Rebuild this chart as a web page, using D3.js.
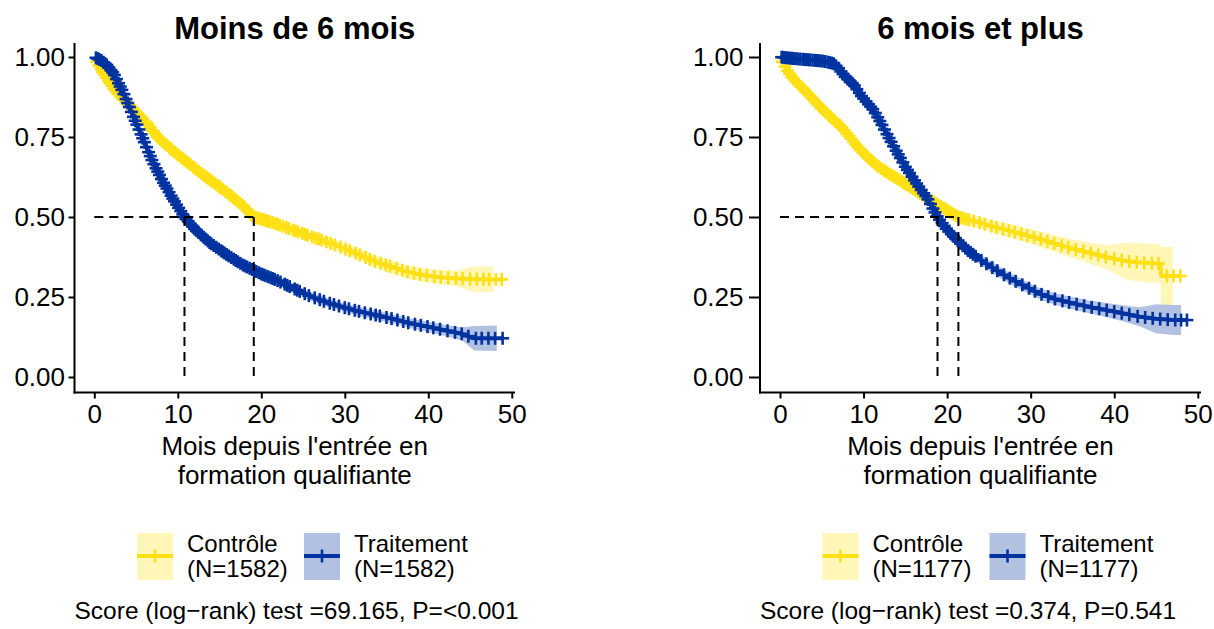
<!doctype html>
<html>
<head>
    <meta charset="utf-8">
    <title>Survie - formation qualifiante</title>
    <style>
        body {
            margin: 0;
            padding: 0;
            background: #fff;
        }
        text {
            font-family: "Liberation Sans", Arial, sans-serif;
            fill: #000;
        }
    </style>
</head>
<body>
    <svg id="chart" width="1214" height="629"></svg>

    <script src="https://d3js.org/d3.v7.min.js"></script>
    <script>
        // ---- data ----
        var xTicks = [0, 10, 20, 30, 40, 50];
        var yTicks = [0, 0.25, 0.5, 0.75, 1];
        var groupNames = ["Contrôle", "Traitement"];
        var groupColors = ["#FFE014", "#0033A0"];

        // panel 1 : Moins de 6 mois
        var timeCtrlA = [0, 0.5, 1.0, 1.6, 2.3, 3.0, 3.7, 4.3, 5.0, 5.8, 6.6, 7.5, 8.5, 9.5, 10.3, 11.5, 12.7, 13.5, 14.5, 15.8, 17.0, 18.0, 19.1, 20.2, 21.4, 22.5, 23.8, 25.4, 27.0, 29.4, 31.5, 33.4, 35.5, 37.4, 39.5, 41.4, 43.5, 45.4, 47.8, 48.9];
        var survCtrlA = [1.0, 0.976, 0.953, 0.93, 0.902, 0.88, 0.862, 0.848, 0.828, 0.806, 0.784, 0.752, 0.728, 0.705, 0.688, 0.664, 0.638, 0.623, 0.604, 0.578, 0.553, 0.53, 0.5, 0.492, 0.482, 0.472, 0.459, 0.444, 0.43, 0.407, 0.385, 0.363, 0.345, 0.329, 0.318, 0.312, 0.308, 0.306, 0.305, 0.305];
        var ciCtrlA = [0, 0.004, 0.006, 0.007, 0.008, 0.009, 0.01, 0.01, 0.011, 0.011, 0.012, 0.012, 0.012, 0.013, 0.013, 0.013, 0.013, 0.014, 0.014, 0.014, 0.014, 0.014, 0.015, 0.015, 0.015, 0.015, 0.016, 0.016, 0.016, 0.017, 0.018, 0.019, 0.02, 0.021, 0.022, 0.023, 0.025, 0.04, 0.04, 0.04];
        var censCtrlA = [0.3, 0.55, 0.8, 1.0, 1.2, 1.45, 1.7, 1.9, 2.1, 2.35, 2.6, 2.85, 3.2, 3.35, 3.5, 3.8, 4.1, 4.3, 4.6, 4.85, 5.0, 5.25, 5.5, 5.75, 6.1, 6.25, 6.4, 6.7, 7.0, 7.25, 7.5, 7.7, 7.9, 8.15, 8.4, 8.7, 9.0, 9.15, 9.3, 9.6, 9.9, 10.1, 10.4, 10.6, 10.8, 11.05, 11.3, 11.55, 11.9, 12.0, 12.2, 12.5, 12.8, 13.05, 13.3, 13.5, 13.7, 13.95, 14.2, 14.5, 14.8, 14.95, 15.1, 15.4, 15.7, 15.9, 16.2, 16.4, 16.6, 16.85, 17.1, 17.4, 17.7, 17.85, 18.0, 18.3, 18.6, 18.8, 19.0, 19.25, 19.5, 19.8, 20.1, 20.35, 20.6, 20.8, 21.0, 21.35, 21.7, 21.95, 22.2, 22.6, 23.0, 23.3, 23.8, 24.1, 24.4, 24.9, 25.2, 25.5, 26.1, 26.5, 26.85, 27.2, 27.8, 28.3, 28.8, 29.5, 30.1, 30.6, 31.3, 31.8, 32.5, 33.0, 33.6, 34.3, 34.9, 35.4, 36.2, 36.9, 37.5, 38.3, 39.0, 39.8, 40.7, 41.5, 42.4, 43.3, 44.1, 45.0, 45.8, 46.6, 47.3, 48.1, 48.8];

        var timeTrtA = [0, 0.8, 1.5, 2.3, 3.5, 4.7, 5.9, 6.9, 8.1, 9.5, 10.8, 12.0, 13.9, 16.0, 17.8, 20.0, 21.8, 24.0, 25.8, 28.0, 29.8, 32.0, 33.8, 36.0, 37.8, 40.0, 41.8, 44.0, 45.5, 48.2, 49.0];
        var survTrtA = [1.0, 0.99, 0.975, 0.949, 0.887, 0.813, 0.74, 0.678, 0.616, 0.553, 0.5, 0.463, 0.418, 0.38, 0.35, 0.322, 0.303, 0.275, 0.253, 0.232, 0.218, 0.203, 0.193, 0.18, 0.168, 0.157, 0.147, 0.135, 0.121, 0.121, 0.121];
        var ciTrtA = [0, 0.003, 0.005, 0.006, 0.008, 0.009, 0.01, 0.011, 0.012, 0.012, 0.012, 0.012, 0.013, 0.013, 0.013, 0.013, 0.013, 0.013, 0.013, 0.013, 0.013, 0.014, 0.014, 0.014, 0.015, 0.016, 0.017, 0.02, 0.038, 0.04, 0.04];
        var censTrtA = [0.2, 0.4, 0.6, 0.85, 1.1, 1.3, 1.5, 1.75, 2.0, 2.2, 2.4, 2.65, 2.9, 3.1, 3.3, 3.55, 3.8, 4.0, 4.2, 4.45, 4.7, 4.9, 5.1, 5.35, 5.6, 5.8, 6.0, 6.25, 6.5, 6.7, 6.9, 7.15, 7.4, 7.6, 7.8, 8.05, 8.3, 8.5, 8.7, 8.95, 9.2, 9.4, 9.6, 9.85, 10.1, 10.35, 10.6, 10.8, 11.0, 11.25, 11.5, 11.75, 12.0, 12.25, 12.5, 12.8, 13.1, 13.35, 13.6, 13.8, 14.0, 14.3, 14.6, 14.9, 15.2, 15.4, 15.6, 15.85, 16.1, 16.4, 16.7, 16.95, 17.2, 17.5, 17.8, 18.05, 18.3, 18.6, 18.9, 19.15, 19.4, 19.7, 20.0, 20.25, 20.5, 20.8, 21.1, 21.35, 21.6, 21.95, 22.3, 22.8, 23.1, 23.4, 24.0, 24.3, 24.6, 25.2, 25.7, 26.4, 27.0, 27.5, 28.2, 28.7, 29.3, 30.0, 30.5, 31.2, 31.7, 32.4, 33.1, 33.7, 34.2, 35.0, 35.6, 36.3, 37.0, 37.6, 38.4, 39.1, 39.9, 40.6, 41.4, 42.3, 43.2, 44.0, 44.8, 45.7, 46.4, 47.2, 48.0, 48.9];

        // panel 2 : 6 mois et plus
        var timeCtrlB = [0, 0.7, 1.4, 2.4, 3.4, 4.3, 5.2, 6.3, 7.4, 8.4, 9.4, 10.6, 11.8, 13.0, 14.2, 15.4, 16.6, 18.0, 19.0, 20.2, 21.35, 22.0, 23.5, 25.5, 27.5, 29.5, 31.5, 33.5, 35.5, 37.5, 39.5, 41.5, 43.5, 45.55, 45.6, 47.0, 47.9];
        var survCtrlB = [1.0, 0.965, 0.938, 0.91, 0.884, 0.858, 0.834, 0.806, 0.78, 0.748, 0.716, 0.684, 0.657, 0.636, 0.617, 0.597, 0.577, 0.553, 0.537, 0.518, 0.5, 0.495, 0.485, 0.47, 0.457, 0.443, 0.428, 0.412, 0.398, 0.385, 0.372, 0.362, 0.357, 0.354, 0.316, 0.316, 0.316];
        var ciCtrlB = [0, 0.005, 0.007, 0.008, 0.009, 0.01, 0.011, 0.012, 0.012, 0.013, 0.013, 0.014, 0.014, 0.014, 0.015, 0.015, 0.015, 0.016, 0.016, 0.016, 0.017, 0.017, 0.018, 0.019, 0.021, 0.023, 0.025, 0.027, 0.03, 0.034, 0.04, 0.058, 0.06, 0.06, 0.09, 0.09, 0.09];
        var censCtrlB = [0.3, 0.6, 0.9, 1.15, 1.4, 1.65, 1.9, 2.2, 2.5, 2.75, 3.0, 3.3, 3.6, 3.85, 4.1, 4.4, 4.7, 4.95, 5.2, 5.5, 5.8, 6.05, 6.3, 6.6, 6.9, 7.15, 7.4, 7.7, 8.0, 8.25, 8.5, 8.8, 9.1, 9.35, 9.6, 9.9, 10.2, 10.45, 10.7, 11.0, 11.3, 11.55, 11.8, 12.1, 12.4, 12.65, 12.9, 13.2, 13.5, 13.75, 14.0, 14.3, 14.6, 14.85, 15.1, 15.4, 15.7, 15.95, 16.2, 16.5, 16.8, 17.05, 17.3, 17.6, 17.9, 18.15, 18.4, 18.7, 19.0, 19.3, 19.6, 19.85, 20.1, 20.4, 20.7, 21.0, 21.3, 21.6, 21.9, 22.25, 22.6, 23.2, 23.9, 24.5, 25.3, 25.9, 26.7, 27.4, 28.1, 28.9, 29.6, 30.4, 31.2, 32.0, 32.8, 33.7, 34.5, 35.4, 36.3, 37.2, 38.1, 39.0, 40.0, 40.9, 41.8, 42.7, 43.6, 44.5, 45.3, 46.3, 47.1, 47.9];

        var timeTrtB = [0, 1.0, 2.6, 4.0, 5.2, 6.4, 7.0, 7.8, 8.8, 9.8, 11.2, 11.8, 13.4, 15.0, 16.6, 17.6, 18.85, 20.0, 21.2, 22.5, 24.0, 25.5, 27.2, 29.0, 31.1, 33.0, 35.1, 37.0, 39.1, 41.0, 43.1, 45.0, 47.1, 48.0, 48.7];
        var survTrtB = [1.0, 0.997, 0.993, 0.99, 0.987, 0.98, 0.965, 0.938, 0.915, 0.876, 0.834, 0.807, 0.73, 0.657, 0.595, 0.56, 0.5, 0.46, 0.428, 0.395, 0.366, 0.34, 0.313, 0.288, 0.26, 0.243, 0.23, 0.219, 0.209, 0.199, 0.188, 0.182, 0.178, 0.178, 0.178];
        var ciTrtB = [0, 0.002, 0.003, 0.004, 0.004, 0.005, 0.006, 0.008, 0.009, 0.011, 0.012, 0.013, 0.014, 0.015, 0.015, 0.016, 0.016, 0.016, 0.016, 0.016, 0.016, 0.017, 0.017, 0.017, 0.017, 0.018, 0.019, 0.02, 0.022, 0.025, 0.03, 0.045, 0.047, 0.047, 0.047];
        var censTrtB = [0.2, 0.45, 0.7, 0.95, 1.2, 1.4, 1.6, 1.85, 2.1, 2.4, 2.7, 2.9, 3.1, 3.35, 3.6, 3.9, 4.2, 4.4, 4.6, 4.85, 5.1, 5.4, 5.7, 5.95, 6.2, 6.45, 6.7, 7.0, 7.3, 7.55, 7.8, 8.1, 8.4, 8.65, 8.9, 9.2, 9.5, 9.75, 10.0, 10.3, 10.6, 10.85, 11.1, 11.4, 11.7, 11.95, 12.2, 12.5, 12.8, 13.05, 13.3, 13.6, 13.9, 14.15, 14.4, 14.7, 15.0, 15.25, 15.5, 15.8, 16.1, 16.35, 16.6, 16.9, 17.2, 17.45, 17.7, 18.0, 18.3, 18.55, 18.8, 19.1, 19.4, 19.65, 19.9, 20.2, 20.5, 20.75, 21.0, 21.3, 21.6, 21.9, 22.2, 22.5, 22.8, 23.1, 23.4, 24.1, 24.7, 25.4, 26.0, 26.8, 27.5, 28.2, 29.0, 29.8, 30.5, 31.3, 32.1, 32.9, 33.8, 34.6, 35.5, 36.4, 37.3, 38.2, 39.1, 40.0, 40.9, 41.8, 42.8, 43.7, 44.6, 45.5, 46.4, 47.3, 48.0, 48.7];

        var mediansA = [19.1, 10.8];
        var mediansB = [21.35, 18.85];
        var countsA = [1582, 1582];
        var countsB = [1177, 1177];
        var titles = ["Moins de 6 mois", "6 mois et plus"];
        var testTexts = ["Score (log\u2212rank) test =69.165, P=<0.001", "Score (log\u2212rank) test =0.374, P=0.541"];

        // ---- layout ----
        var panels = [
            {left: 74.5, right: 515, x0: 94.3, x50: 511.8, yTickLen: 6, yPad: 3.5,
             title: titles[0], test: testTexts[0], medians: mediansA, counts: countsA,
             curves: [
                {time: timeCtrlA, surv: survCtrlA, ci: ciCtrlA, cens: censCtrlA},
                {time: timeTrtA, surv: survTrtA, ci: ciTrtA, cens: censTrtA}]},
            {left: 760, right: 1201, x0: 780, x50: 1197.8, yTickLen: 11, yPad: 5.5,
             title: titles[1], test: testTexts[1], medians: mediansB, counts: countsB,
             curves: [
                {time: timeCtrlB, surv: survCtrlB, ci: ciCtrlB, cens: censCtrlB},
                {time: timeTrtB, surv: survTrtB, ci: ciTrtB, cens: censTrtB}]}
        ];
        var panelTop = 43, panelBottom = 392.5;

        var svg = d3.select("#chart");

        panels.forEach(function(p) {
            var x = d3.scaleLinear().domain([0, 50]).range([p.x0, p.x50]);
            var y = d3.scaleLinear().domain([0, 1]).range([377, 57]);
            var g = svg.append("g");
            var mid = (p.left + p.right) / 2;

            // confidence bands
            p.curves.forEach(function(c, i) {
                var pts = c.time.slice(0, -1).map(function(t, k) { return [t, c.surv[k], c.ci[k]]; });
                g.append("path")
                    .datum(pts)
                    .attr("d", d3.area()
                        .x(function(d) { return x(d[0]); })
                        .y0(function(d) { return y(d[1] - d[2]); })
                        .y1(function(d) { return y(d[1] + d[2]); }))
                    .style("fill", groupColors[i])
                    .style("fill-opacity", 0.3);
            });

            // survival curves
            p.curves.forEach(function(c, i) {
                var pts = c.time.map(function(t, k) { return [t, c.surv[k]]; });
                g.append("path")
                    .datum(pts)
                    .attr("d", d3.line()
                        .x(function(d) { return x(d[0]); })
                        .y(function(d) { return y(d[1]); }))
                    .style("fill", "none")
                    .style("stroke", groupColors[i])
                    .style("stroke-width", 4)
                    .style("stroke-linejoin", "round");
            });

            // censor marks
            p.curves.forEach(function(c, i) {
                var sAt = d3.scaleLinear().domain(c.time).range(c.surv).clamp(true);
                var marks = g.append("g").selectAll("g")
                    .data(c.cens)
                    .enter().append("g")
                    .attr("transform", function(t) { return "translate(" + x(t) + "," + y(sAt(t)) + ")"; });
                marks.append("line")
                    .attr("x1", 0).attr("x2", 0).attr("y1", -6.5).attr("y2", 6.5)
                    .style("stroke", groupColors[i]).style("stroke-width", 2.6);
                marks.append("line")
                    .attr("x1", -6.5).attr("x2", 6.5).attr("y1", 0).attr("y2", 0)
                    .style("stroke", groupColors[i]).style("stroke-width", 2.6);
            });

            // median lines
            var maxMed = d3.max(p.medians);
            g.append("line")
                .attr("x1", x(0)).attr("x2", x(maxMed))
                .attr("y1", y(0.5)).attr("y2", y(0.5))
                .style("stroke", "#000").style("stroke-width", 2).style("stroke-dasharray", "9,6");
            p.medians.forEach(function(m) {
                g.append("line")
                    .attr("x1", x(m)).attr("x2", x(m))
                    .attr("y1", y(0.5)).attr("y2", y(0))
                    .style("stroke", "#000").style("stroke-width", 2).style("stroke-dasharray", "9,6");
            });

            // axes
            var yAxis = g.append("g")
                .attr("transform", "translate(" + p.left + ",0)")
                .call(d3.axisLeft(y).tickValues(yTicks).tickFormat(d3.format(".2f"))
                    .tickSize(p.yTickLen).tickSizeOuter(0).tickPadding(p.yPad));
            var xAxis = g.append("g")
                .attr("transform", "translate(0," + panelBottom + ")")
                .call(d3.axisBottom(x).tickValues(xTicks).tickSize(6).tickSizeOuter(0).tickPadding(6));
            [yAxis, xAxis].forEach(function(a) {
                a.select(".domain").remove();
                a.selectAll("line").style("stroke", "#000").style("stroke-width", 2);
                a.selectAll("text").style("font-size", "26px").style("fill", "#000")
                    .style("font-family", "'Liberation Sans', Arial, sans-serif");
            });
            g.append("line")
                .attr("x1", p.left).attr("x2", p.left).attr("y1", panelTop).attr("y2", panelBottom + 1)
                .style("stroke", "#000").style("stroke-width", 2);
            g.append("line")
                .attr("x1", p.left - 1).attr("x2", p.right).attr("y1", panelBottom).attr("y2", panelBottom)
                .style("stroke", "#000").style("stroke-width", 2);

            // title
            g.append("text")
                .attr("x", mid).attr("y", 39)
                .attr("text-anchor", "middle")
                .style("font-size", "31px")
                .style("font-weight", "bold")
                .text(p.title);

            // axis title
            g.append("text")
                .attr("x", mid).attr("y", 455)
                .attr("text-anchor", "middle")
                .style("font-size", "26px")
                .text("Mois depuis l'entrée en");
            g.append("text")
                .attr("x", mid).attr("y", 484)
                .attr("text-anchor", "middle")
                .style("font-size", "26px")
                .text("formation qualifiante");

            // legend
            var keyX = [p.left + 62.5, p.left + 229.5];
            groupNames.forEach(function(name, i) {
                var k = g.append("g").attr("transform", "translate(" + keyX[i] + ",533)");
                k.append("rect")
                    .attr("width", 36).attr("height", 47)
                    .style("fill", groupColors[i]).style("fill-opacity", 0.3);
                k.append("line")
                    .attr("x1", 0).attr("x2", 36).attr("y1", 23).attr("y2", 23)
                    .style("stroke", groupColors[i]).style("stroke-width", 4);
                k.append("line")
                    .attr("x1", 18).attr("x2", 18).attr("y1", 16.5).attr("y2", 29.5)
                    .style("stroke", groupColors[i]).style("stroke-width", 2.6);
                k.append("text")
                    .attr("x", 50).attr("y", 19)
                    .style("font-size", "24px")
                    .text(name);
                k.append("text")
                    .attr("x", 50).attr("y", 44)
                    .style("font-size", "24px")
                    .text("(N=" + p.counts[i] + ")");
            });

            // log-rank test
            g.append("text")
                .attr("x", p.left).attr("y", 619)
                .style("font-size", "24.5px")
                .text(p.test);
        });
    </script>
</body>
</html>
